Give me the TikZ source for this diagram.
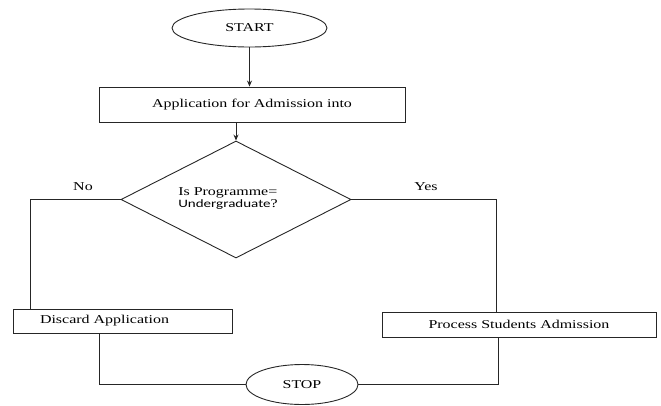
\documentclass[tikz,border=0pt]{standalone}
\usepackage{fontspec}
\setmainfont{Liberation Serif}[FakeStretch=1.33]
\newfontfamily\questfont{Carlito}[FakeStretch=1.33]
\usetikzlibrary{shapes.geometric,arrows.meta,calc}

\tikzset{
  every node/.style={font=\fontsize{12}{14}\selectfont},
  flow/.style={draw=black!85, line width=0.9pt},
  terminal/.style={flow, ellipse, inner sep=0pt},
  procbox/.style={flow, rectangle, inner sep=0pt},
  decision/.style={flow, diamond, inner sep=0pt},
  link/.style={draw=black!85, line width=0.9pt},
  arrowlink/.style={link, -{Stealth[length=6pt,width=5pt]}},
}

\begin{document}
\begin{tikzpicture}[x=1pt, y=-1pt]
  % page frame
  \useasboundingbox (0,0) rectangle (661,405);

  % terminals
  \node[terminal, minimum width=155pt, minimum height=38pt] (start) at (249.5,28) {START};
  \node[terminal, minimum width=112pt, minimum height=40pt] (stop) at (302,384.5) {STOP};

  % processing steps
  \node[procbox, minimum width=306pt, minimum height=35pt] (app) at (252,104.5)
    {Application for Admission into};
  \node[procbox, minimum height=24pt, text width=165pt, inner xsep=27pt, align=left]
    (discard) at (122.5,321) {Discard Application};
  \node[procbox, minimum width=274pt, minimum height=25pt] (process) at (519,324.5)
    {Process Students Admission};

  % decision
  \node[decision, minimum width=230pt, minimum height=117pt] (dec) at (236,199.5) {};
  \node[align=left, inner sep=0pt] (dectext) at (228,199)
    {Is Programme=\\[-2pt]{\questfont\fontsize{11.3}{13}\selectfont Undergraduate}?};

  % branch labels
  \node (no) at (83,187) {No};
  \node (yes) at (426,187) {Yes};

  % connectors
  \coordinate (noturn) at ($(discard.north west)+(18,0)$);
  \coordinate (yesturn) at ($(process.north west)+(115,0)$);
  \coordinate (discardout) at ($(discard.south west)+(87,0)$);
  \coordinate (processout) at ($(process.south west)+(117,0)$);

  \draw[arrowlink] (start.south) -- (start.south |- app.north);
  \draw[arrowlink] (dec.north |- app.south) -- (dec.north);
  \draw[link] (dec.west) -| (noturn);
  \draw[link] (dec.east) -| (yesturn);
  \draw[link] (discardout) |- (stop.west);
  \draw[link] (processout) |- (stop.east);
\end{tikzpicture}
\end{document}
